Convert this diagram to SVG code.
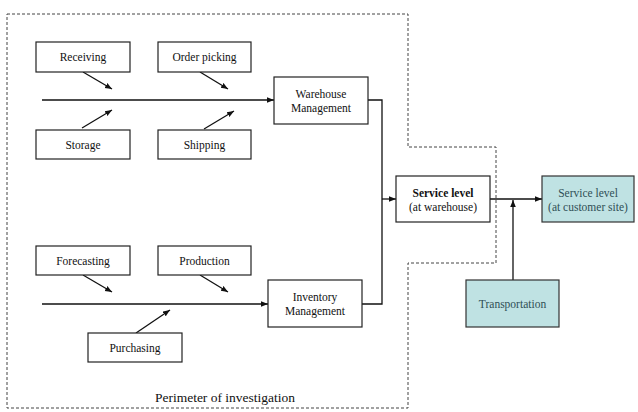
<svg xmlns="http://www.w3.org/2000/svg" width="638" height="412" viewBox="0 0 638 412">
<style>
.box{fill:#fff;stroke:#222;stroke-width:1.2}
.teal{fill:#bfe2e3;stroke:#333;stroke-width:1.2}
.t{font-family:"Liberation Serif",serif;font-size:11.5px;fill:#111;text-anchor:middle}
.tt{font-family:"Liberation Serif",serif;font-size:11.5px;fill:#2f4f55;text-anchor:middle}
.b{font-weight:bold}
.ln{fill:none;stroke:#111;stroke-width:1.3}
.per{fill:none;stroke:#444;stroke-width:1;stroke-dasharray:3,2}
</style>
<defs>
<marker id="ah" viewBox="0 0 10 10" refX="10" refY="5" markerWidth="7" markerHeight="7" orient="auto" markerUnits="userSpaceOnUse">
<path d="M0,1 L10,5 L0,9 z" fill="#111"/>
</marker>
</defs>
<rect width="638" height="412" fill="#fff"/>
<g id="perimeter">
<path class="per" d="M7,14 H408 V147 H496 V263 H408 V408 H7 Z"/>
<text x="225" y="402" font-family="Liberation Serif,serif" font-size="13.5" text-anchor="middle" fill="#111">Perimeter of investigation</text>
</g>
<g id="connectors">
<path class="ln" d="M42,100 H274" marker-end="url(#ah)"/>
<path class="ln" d="M83,72 L112,89" marker-end="url(#ah)"/>
<path class="ln" d="M200,72 L228,89" marker-end="url(#ah)"/>
<path class="ln" d="M82,128 L112,110" marker-end="url(#ah)"/>
<path class="ln" d="M204,129 L234,111" marker-end="url(#ah)"/>
<path class="ln" d="M42,304 H268" marker-end="url(#ah)"/>
<path class="ln" d="M83,275 L112,292" marker-end="url(#ah)"/>
<path class="ln" d="M200,275 L228,292" marker-end="url(#ah)"/>
<path class="ln" d="M136,333 L170,310" marker-end="url(#ah)"/>
<path class="ln" d="M368,100 H382 V304 H362"/>
<path class="ln" d="M382,199 H396" marker-end="url(#ah)"/>
<path class="ln" d="M490,199 H542" marker-end="url(#ah)"/>
<path class="ln" d="M513,280 V200" marker-end="url(#ah)"/>
</g>
<g id="receiving"><rect class="box" x="36" y="42" width="94" height="30"/><text class="t" x="83" y="61">Receiving</text></g>
<g id="order-picking"><rect class="box" x="158" y="42" width="93" height="30"/><text class="t" x="204.5" y="61">Order picking</text></g>
<g id="storage"><rect class="box" x="36" y="130" width="94" height="29"/><text class="t" x="83" y="149">Storage</text></g>
<g id="shipping"><rect class="box" x="158" y="130" width="93" height="29"/><text class="t" x="204.5" y="149">Shipping</text></g>
<g id="warehouse-management"><rect class="box" x="274" y="77" width="94" height="47"/><text class="t" x="321" y="98">Warehouse</text><text class="t" x="321" y="112">Management</text></g>
<g id="forecasting"><rect class="box" x="36" y="246" width="94" height="29"/><text class="t" x="83" y="265">Forecasting</text></g>
<g id="production"><rect class="box" x="158" y="246" width="93" height="29"/><text class="t" x="204.5" y="265">Production</text></g>
<g id="purchasing"><rect class="box" x="88" y="333" width="94" height="29"/><text class="t" x="135" y="352">Purchasing</text></g>
<g id="inventory-management"><rect class="box" x="268" y="280" width="94" height="47"/><text class="t" x="315" y="301">Inventory</text><text class="t" x="315" y="315">Management</text></g>
<g id="service-level-warehouse"><rect class="box" x="396" y="176" width="94" height="46"/><text class="t b" x="443" y="197">Service level</text><text class="t" x="443" y="211">(at warehouse)</text></g>
<g id="service-level-customer"><rect class="teal" x="542" y="176" width="92" height="46"/><text class="tt" x="588" y="197">Service level</text><text class="tt" x="588" y="211">(at customer site)</text></g>
<g id="transportation"><rect class="teal" x="466" y="280" width="93" height="47"/><text class="tt" x="512.5" y="308">Transportation</text></g>
</svg>
